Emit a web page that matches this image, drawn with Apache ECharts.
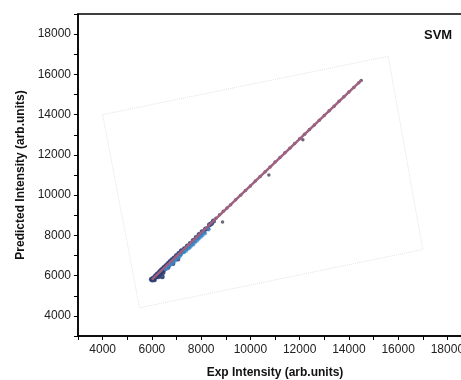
<!DOCTYPE html>
<html>
<head>
<meta charset="utf-8">
<script src="https://cdn.jsdelivr.net/npm/echarts@6/dist/echarts.min.js"></script>
<style>
  html, body { margin: 0; padding: 0; background: #fff; }
  #main { width: 461px; height: 380px; }
</style>
</head>
<body>
<div id="main"></div>
<script>
// measured points, dark
var pointsDark = [
  [5980, 5820], [6020, 5780], [6050, 5870], [6080, 5850], [6120, 5930], [6150, 5990],
  [6180, 5960], [6220, 6080], [6260, 6040], [6300, 6170], [6330, 6120], [6360, 6250],
  [6400, 6200], [6430, 6330], [6470, 6280], [6500, 6420], [6540, 6360], [6580, 6500],
  [6620, 6460], [6660, 6600], [6700, 6560], [6740, 6700], [6780, 6650], [6820, 6790],
  [6860, 6760], [6900, 6880], [6950, 6850], [7000, 7000], [7050, 6960], [7100, 7110],
  [7150, 7080], [7200, 7230], [7260, 7200], [7320, 7340], [7380, 7330], [7440, 7470],
  [7500, 7450], [7560, 7600], [7620, 7600], [7680, 7740], [7740, 7740], [7800, 7900],
  [7860, 7880], [7920, 8040], [7980, 8020], [8040, 8180], [8100, 8170], [8180, 8320],
  [8260, 8340], [8340, 8530], [8420, 8590], [8500, 8720], [6420, 5950],
  [6250, 5950], [6450, 6150], [6650, 6420], [6850, 6600], [7050, 6820], [6100, 5800]
];
var pointsUpper = [
  [8600, 8850], [8750, 9020], [8900, 9200], [9050, 9360], [9200, 9520], [9400, 9770],
  [9600, 9990], [9800, 10230], [10000, 10450], [10200, 10700], [10400, 10920], [10600, 11160],
  [10800, 11400], [11000, 11640], [11200, 11870], [11400, 12100], [11600, 12330], [11800, 12560],
  [12000, 12800], [12200, 13020], [12400, 13260], [12600, 13490], [12800, 13720], [13000, 13960],
  [13200, 14190], [13400, 14420], [13600, 14660], [13800, 14890], [14000, 15120], [14200, 15350],
  [14400, 15590], [14500, 15700], [8870, 8670], [10750, 11000], [12130, 12750]
];
var pointsLight = [
  [6550, 6330], [6700, 6500], [6850, 6650], [7000, 6850], [7150, 7000], [7200, 7120],
  [7300, 7180], [7450, 7330], [7600, 7500], [7750, 7680], [7900, 7850], [8050, 8020],
  [6620, 6380], [6780, 6560], [6930, 6740], [7080, 6900], [7380, 7230], [7530, 7400],
  [7680, 7560], [7830, 7740], [7980, 7930], [8150, 8100], [8300, 8300]
];
var fitLine = [[6000, 5800], [14500, 15700]];
// faint scanned frame
var frame = [[4000, 14000], [15600, 16900], [17000, 7300], [5500, 4400], [4000, 14000]];

var myChart = echarts.init(document.getElementById('main'));
var option = {
  animation: false,
  title: {
    text: 'SVM',
    left: 419,
    top: 24,
    textStyle: { fontFamily: 'Liberation Sans', fontSize: 13, fontWeight: 'bold', color: '#111' }
  },
  grid: {
    left: 78, top: 14, width: 394, height: 322,
    outerBoundsMode: 'none',
    show: true, borderColor: '#000', borderWidth: 1.5
  },
  xAxis: {
    type: 'value', min: 3000, max: 19000, interval: 1000,
    name: 'Exp Intensity (arb.units)',
    nameLocation: 'middle', nameGap: 31,
    nameTextStyle: { fontFamily: 'Liberation Sans', fontSize: 12, fontWeight: 'bold', color: '#111' },
    axisLine: { lineStyle: { color: '#000', width: 1.5 } },
    axisTick: { length: 4, lineStyle: { color: '#000' } },
    axisLabel: {
      fontFamily: 'Liberation Sans', fontSize: 12, color: '#222', margin: 8,
      formatter: function (v) { return v % 2000 === 0 ? String(v) : ''; }
    },
    splitLine: { show: false }
  },
  yAxis: {
    type: 'value', min: 3000, max: 19000, interval: 1000,
    name: 'Predicted Intensity (arb.units)',
    nameLocation: 'middle', nameGap: 50,
    nameTextStyle: { fontFamily: 'Liberation Sans', fontSize: 12, fontWeight: 'bold', color: '#111' },
    axisLine: { lineStyle: { color: '#000', width: 1.5 } },
    axisTick: { length: 4, lineStyle: { color: '#000' } },
    axisLabel: {
      fontFamily: 'Liberation Sans', fontSize: 12, color: '#222', margin: 7,
      formatter: function (v) { return v % 2000 === 0 ? String(v) : ''; }
    },
    splitLine: { show: false }
  },
  series: [
    {
      type: 'line', data: frame, symbol: 'none', silent: true,
      lineStyle: { color: '#e2e2ea', width: 1, type: 'dotted' }
    },
    {
      type: 'line', data: fitLine, symbol: 'none',
      lineStyle: { color: '#a06080', width: 2.5 }
    },
    {
      type: 'scatter', data: pointsUpper, symbolSize: 3.5,
      itemStyle: { color: '#4a3e58', opacity: 0.8 }
    },
    {
      type: 'scatter', data: pointsDark, symbolSize: 5,
      itemStyle: { color: '#2b3e72', opacity: 0.9 }
    },
    {
      type: 'scatter', data: pointsLight, symbolSize: 4.5,
      itemStyle: { color: '#3f8ccc', opacity: 0.75 }
    }
  ]
};
myChart.setOption(option);
</script>
</body>
</html>
